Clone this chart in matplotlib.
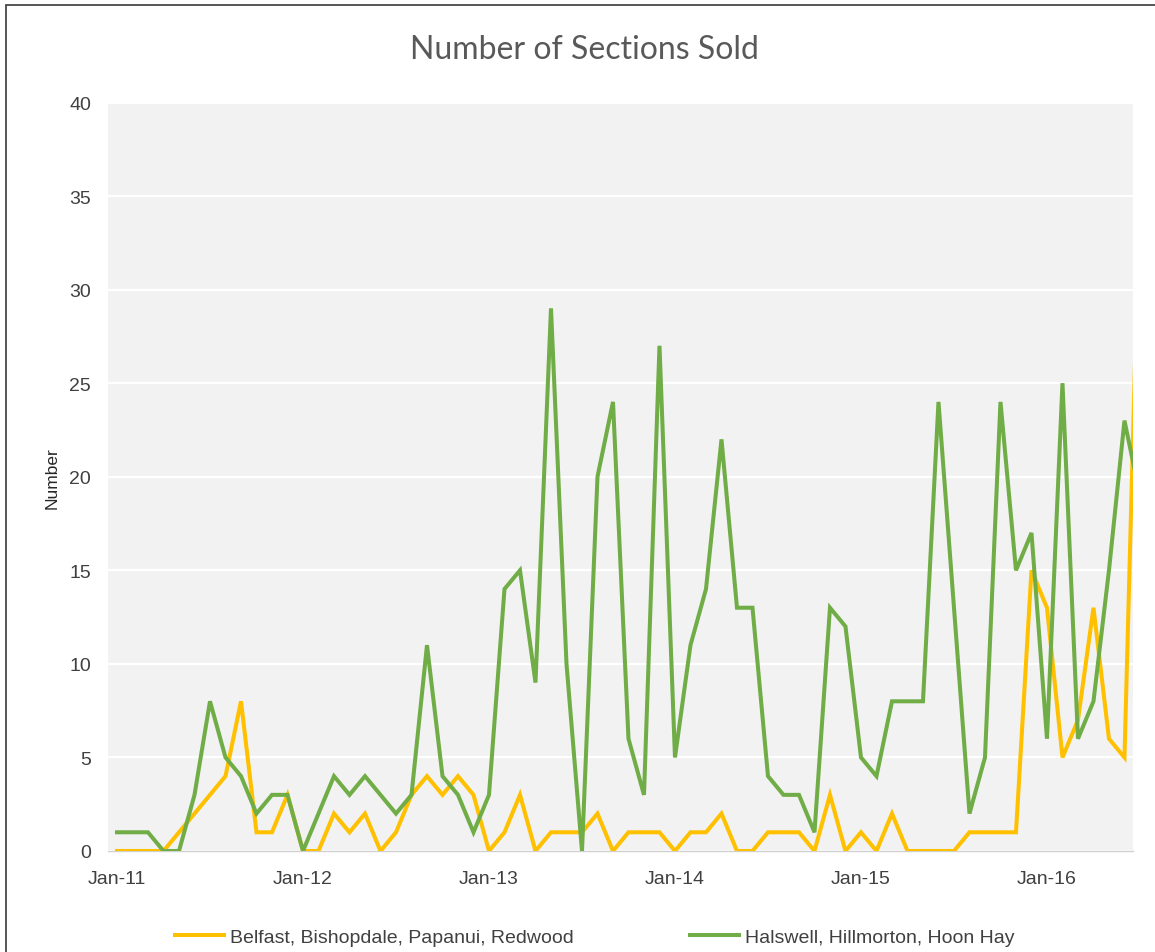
#!/usr/bin/env python3
"""Number of sections sold per month, two Christchurch area groups."""

import matplotlib.pyplot as plt
import pandas as pd
from matplotlib.patches import Rectangle

plt.rcParams["font.family"] = ["Liberation Sans", "DejaVu Sans"]

# monthly values, Jan-11 .. Jul-16 (last month is cut off by the axis edge)
months = pd.date_range("2011-01-01", periods=67, freq="MS")
belfast = [0, 0, 0, 0, 1, 2, 3, 4, 8, 1, 1, 3,
           0, 0, 2, 1, 2, 0, 1, 3, 4, 3, 4, 3,
           0, 1, 3, 0, 1, 1, 1, 2, 0, 1, 1, 1,
           0, 1, 1, 2, 0, 0, 1, 1, 1, 0, 3, 0,
           1, 0, 2, 0, 0, 0, 0, 1, 1, 1, 1, 15,
           13, 5, 7, 13, 6, 5, 36]
halswell = [1, 1, 1, 0, 0, 3, 8, 5, 4, 2, 3, 3,
            0, 2, 4, 3, 4, 3, 2, 3, 11, 4, 3, 1,
            3, 14, 15, 9, 29, 10, 0, 20, 24, 6, 3, 27,
            5, 11, 14, 22, 13, 13, 4, 3, 3, 1, 13, 12,
            5, 4, 8, 8, 8, 24, 13, 2, 5, 24, 15, 17,
            6, 25, 6, 8, 15, 23, 19]
series_names = ["Belfast, Bishopdale, Papanui, Redwood",
                "Halswell, Hillmorton, Hoon Hay"]
tick_months = [m for m in months if m.month == 1]

C_YELLOW = "#FFC000"
C_GREEN = "#70AD47"
C_PLOT = "#F2F2F2"
C_TEXT = "#404040"

W, H = 1155, 953
fig = plt.figure(figsize=(W / 100, H / 100), dpi=100)
fig.patch.set_facecolor("white")

# chart border (top and left visible in the screenshot)
fig.add_artist(Rectangle((6 / W, -0.05), 1.2, 1.05 - 6 / H, transform=fig.transFigure,
                         fill=False, edgecolor="#3A3A3A", lw=1.2))

ax = fig.add_axes([107.7 / W, 101 / H, 1025.3 / W, 748.5 / H])
ax.set_facecolor(C_PLOT)

x = list(range(len(months)))
ax.plot(x, belfast, color=C_YELLOW, lw=2.9, solid_joinstyle="miter", label=series_names[0], zorder=3)
ax.plot(x, halswell, color=C_GREEN, lw=2.9, solid_joinstyle="miter", label=series_names[1], zorder=4)

ax.set_xlim(-0.6, 65.55)
ax.set_ylim(0, 40)
ax.set_yticks(range(0, 41, 5))
ax.set_xticks([months.get_loc(m) for m in tick_months])
ax.set_xticklabels([m.strftime("%b-%y") for m in tick_months])
ax.grid(axis="y", color="white", lw=1.6)
ax.set_axisbelow(True)
for s in ["top", "right", "left"]:
    ax.spines[s].set_visible(False)
ax.spines["bottom"].set_color("#D0D0D0")
ax.spines["bottom"].set_linewidth(1.0)
ax.tick_params(axis="x", length=0, pad=14, labelsize=14, colors=C_TEXT)
ax.tick_params(axis="y", length=0, pad=12, labelsize=14, colors=C_TEXT)

ax.set_ylabel("Number", fontsize=12.5, color="#262626", labelpad=7)

fig.text(584 / W, 1 - 50 / H, "Number of Sections Sold", ha="center", va="center",
         fontsize=23, color="#595959", family=["Lato", "DejaVu Sans"])

fig.legend(loc="center", bbox_to_anchor=(0.515, 1 - 938 / H), ncol=2, frameon=False,
           fontsize=14, handlelength=2.5, handletextpad=0.3, columnspacing=6.0,
           labelcolor=C_TEXT)

fig.savefig("out.png", dpi=100, facecolor=fig.get_facecolor())
